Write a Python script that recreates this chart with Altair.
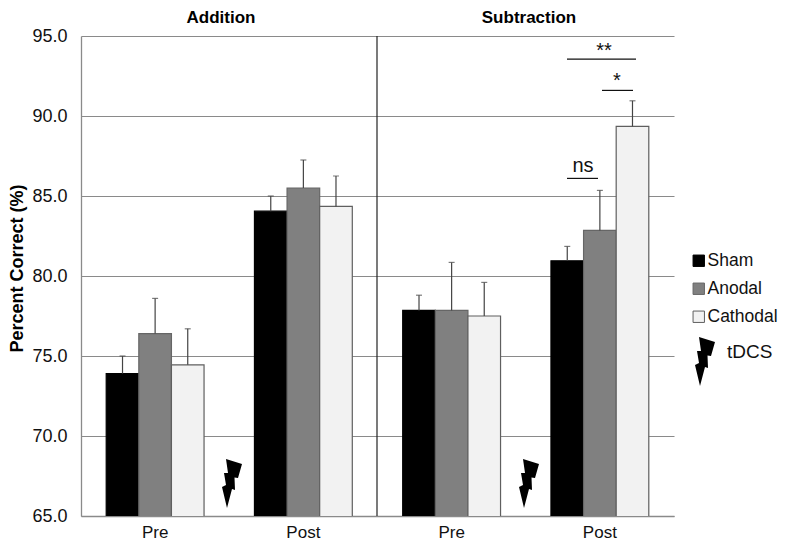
import altair as alt
import pandas as pd

groups = ["Addition-Pre", "Addition-Post", "Subtraction-Pre", "Subtraction-Post"]
series = ["Sham", "Anodal", "Cathodal"]
colors = ["#000000", "#808080", "#f2f2f2"]
strokes = ["#000000", "#666666", "#5f5f5f"]
means = {
    "Sham": [73.9, 84.05, 77.85, 80.95],
    "Anodal": [76.4, 85.5, 77.85, 82.85],
    "Cathodal": [74.45, 84.35, 77.5, 89.35],
}
uppers = {
    "Sham": [75.0, 85.0, 78.8, 81.85],
    "Anodal": [78.6, 87.25, 80.85, 85.35],
    "Cathodal": [76.7, 86.25, 79.6, 90.95],
}
BOLT = ("M-.24,-1L.4,-.8L.24,-.24L.1,-.26L.12,.24L0,.2L-.2,.96L-.4,.12"
        "L-.24,.04L-.32,-.44L-.16,-.44Z")
FONT = "Liberation Sans"

rows = [{"group": g, "series": s, "mean": means[s][i], "upper": uppers[s][i]}
        for s in series for i, g in enumerate(groups)]
df = pd.DataFrame(rows)

x = alt.X("group:N", sort=groups, title=None,
          scale=alt.Scale(paddingInner=0.34, paddingOuter=0.17),
          axis=alt.Axis(labelExpr="split(datum.label,'-')[1]", labelAngle=0, labelFont=FONT,
                        labelFontSize=17, labelColor="#111111", labelPadding=8, ticks=False,
                        domainColor="#8a8a8a", domainWidth=1.3))
xo = alt.XOffset("series:N", sort=series, scale=alt.Scale(paddingInner=0, paddingOuter=0))
yscale = alt.Scale(domain=[65, 95], nice=False)

bars = alt.Chart(df).mark_bar(strokeWidth=1.2, clip=True).encode(
    x=x, xOffset=xo,
    y=alt.Y("mean:Q", scale=yscale, title="Percent Correct (%)",
            axis=alt.Axis(values=[65, 70, 75, 80, 85, 90, 95], format=".1f", ticks=False,
                          labelFont=FONT, labelFontSize=18, labelColor="#111111", labelPadding=14,
                          gridColor="#8a8a8a", gridWidth=1.2, grid=True,
                          domainColor="#8a8a8a", domainWidth=1.3,
                          titleFont=FONT, titleFontSize=18, titleFontWeight="bold",
                          titleColor="#000000", titleX=-59, titleY=232, titleBaseline="alphabetic")),
    color=alt.Color("series:N", sort=series, title=None,
                    scale=alt.Scale(domain=series, range=colors),
                    legend=alt.Legend(orient="none", legendX=609, legendY=216, labelFont=FONT,
                                      labelFontSize=17.5, labelColor="#111111", symbolType="square",
                                      symbolSize=130, symbolStrokeColor="#555555",
                                      symbolStrokeWidth=1, symbolOpacity=1, rowPadding=9,
                                      labelOffset=0)),
    stroke=alt.Stroke("series:N", sort=series, legend=None,
                      scale=alt.Scale(domain=series, range=strokes)),
)
err = alt.Chart(df).mark_rule(color="#444444", strokeWidth=1.2).encode(
    x=x, xOffset=xo, y=alt.Y("mean:Q", scale=yscale), y2="upper:Q")
cap = alt.Chart(df).mark_tick(color="#444444", thickness=1.2, size=6, orient="horizontal").encode(
    x=x, xOffset=xo, y=alt.Y("upper:Q", scale=yscale))

divider = alt.Chart(pd.DataFrame({"a": [0]})).mark_rule(color="#222222", strokeWidth=1.2).encode(
    x=alt.value(296), y=alt.value(0), y2=alt.value(480))

sig_lines = pd.DataFrame({
    "x1": [486, 521, 486], "x2": [555, 552, 517], "y": [93.55, 91.6, 86.1]})
sig = alt.Chart(sig_lines).mark_rule(color="#111111", strokeWidth=1.2).encode(
    x=alt.X("x1:Q", scale=None), x2="x2:Q", y=alt.Y("y:Q", scale=yscale))

texts = pd.DataFrame({
    "label": ["**", "*", "ns"],
    "px": [523, 536, 502],
    "v": [94.05, 92.2, 86.85],
    "size": [20, 20, 20],
})
sigtext = alt.Chart(texts).mark_text(font=FONT, color="#111111", baseline="middle").encode(
    x=alt.X("px:Q", scale=None), y=alt.Y("v:Q", scale=yscale), text="label:N",
    size=alt.Size("size:Q", scale=None, legend=None))

titles = pd.DataFrame({"label": ["Addition", "Subtraction"], "px": [140, 448], "py": [-18, -18]})
title_marks = alt.Chart(titles).mark_text(font=FONT, fontSize=17, fontWeight="bold", color="#000000").encode(
    x=alt.X("px:Q", scale=None), y=alt.Y("py:Q", scale=None), text="label:N")

tdcs = alt.Chart(pd.DataFrame({"label": ["tDCS"]})).mark_text(
    font=FONT, fontSize=19, color="#111111", align="left").encode(
    x=alt.value(646), y=alt.value(316), text="label:N")

bolts = pd.DataFrame({"px": [151, 448, 624], "py": [448, 448, 326]})
bolt_marks = alt.Chart(bolts).mark_point(shape=BOLT, filled=True, color="#000000", opacity=1, size=2500).encode(
    x=alt.X("px:Q", scale=None), y=alt.Y("py:Q", scale=None))

chart = alt.layer(bars, err, cap, divider, sig, sigtext, title_marks, tdcs, bolt_marks).resolve_scale(
    x="shared", y="shared"
).properties(
    width=593, height=480,
    autosize=alt.AutoSizeParams(type="none"),
    padding={"left": 73, "top": 28, "right": 105, "bottom": 24},
).configure_view(stroke=None)

chart.save("out.html", embed_options={"renderer": "svg", "actions": False})
